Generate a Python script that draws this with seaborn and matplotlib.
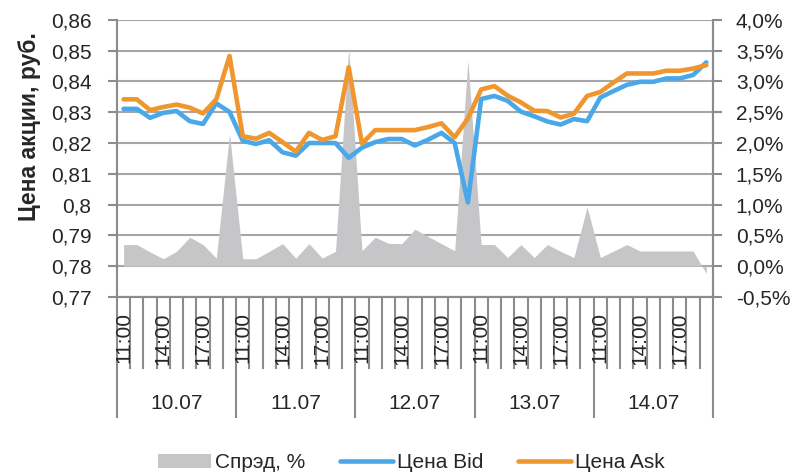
import numpy as np
import pandas as pd
import seaborn as sns
import matplotlib.pyplot as plt
from matplotlib.patches import Patch
from matplotlib.lines import Line2D

# Aesthetics
sns.set_style("white")
plt.rcParams["font.family"] = ["Liberation Sans", "DejaVu Sans"]

# Data (hourly, 11:00-19:00, five days)
days = ["10.07", "11.07", "12.07", "13.07", "14.07"]
hours = ["11:00", "12:00", "13:00", "14:00", "15:00", "16:00", "17:00", "18:00", "19:00"]
hour_labels = ["11:00", "14:00", "17:00"]

ask = [0.8342, 0.8342, 0.8307, 0.8317, 0.8325, 0.8315, 0.8296, 0.8342, 0.8483,
       0.8222, 0.8214, 0.8233, 0.8203, 0.8172, 0.8233, 0.8210, 0.8222, 0.8446,
       0.8198, 0.8242, 0.8242, 0.8242, 0.8242, 0.8252, 0.8264, 0.8219, 0.8280,
       0.8374, 0.8385, 0.8354, 0.8332, 0.8305, 0.8304, 0.8283, 0.8295, 0.8353,
       0.8366, 0.8397, 0.8426, 0.8426, 0.8426, 0.8435, 0.8435, 0.8442, 0.8453]

bid = [0.8311, 0.8311, 0.8282, 0.8298, 0.8304, 0.8271, 0.8262, 0.8329, 0.8301,
       0.8207, 0.8197, 0.8209, 0.8170, 0.8159, 0.8200, 0.8200, 0.8200, 0.8152,
       0.8185, 0.8203, 0.8213, 0.8213, 0.8192, 0.8211, 0.8233, 0.8200, 0.8007,
       0.8343, 0.8353, 0.8337, 0.8302, 0.8287, 0.8270, 0.8260, 0.8278, 0.8271,
       0.8348, 0.8369, 0.8389, 0.8399, 0.8399, 0.8410, 0.8410, 0.8421, 0.8462]

spread = [0.35, 0.35, 0.23, 0.12, 0.24, 0.47, 0.35, 0.13, 2.15,
          0.12, 0.12, 0.24, 0.365, 0.13, 0.365, 0.13, 0.24, 3.55,
          0.25, 0.47, 0.37, 0.365, 0.60, 0.48, 0.365, 0.25, 3.35,
          0.35, 0.35, 0.14, 0.35, 0.14, 0.35, 0.24, 0.14, 0.96,
          0.14, 0.245, 0.35, 0.245, 0.245, 0.245, 0.245, 0.245, -0.12]

price_ticks = [0.77, 0.78, 0.79, 0.80, 0.81, 0.82, 0.83, 0.84, 0.85, 0.86]
spread_ticks = [-0.5, 0.0, 0.5, 1.0, 1.5, 2.0, 2.5, 3.0, 3.5, 4.0]

# Colors
c_bid = "#4aa8e8"
c_ask = "#f0962e"
c_spread = "#c6c6c8"
c_axis = "#8c8c8c"
c_grid = "#a6a6a6"

df = pd.DataFrame({
    "day": np.repeat(days, len(hours)),
    "hour": hours * len(days),
    "bid": bid,
    "ask": ask,
    "spread": spread,
})
df["pos"] = np.arange(len(df))

fig = plt.figure(figsize=(7.93, 4.75), dpi=100)
ax = fig.add_axes([0.1475, 0.375, 0.7515, 0.583])
ax2 = ax.twinx()
ax.set_zorder(2)
ax2.set_zorder(1)
ax.patch.set_visible(False)

# Spread area on the right axis (behind the lines)
ax2.fill_between(df["pos"], 0, df["spread"], color=c_spread, lw=0, zorder=2)
ax2.set_ylim(-0.5, 4.0)
ax2.set_yticks(spread_ticks)
ax2.set_yticklabels([f"{v:.1f}%".replace(".", ",") for v in spread_ticks])
ax2.grid(axis="y", color=c_grid, lw=1.5, zorder=1)
ax2.set_axisbelow(True)

# Prices on the left axis
sns.lineplot(data=df, x="pos", y="bid", ax=ax, color=c_bid, lw=3.3, legend=False)
sns.lineplot(data=df, x="pos", y="ask", ax=ax, color=c_ask, lw=3.3, legend=False)
ax.set_ylim(0.77, 0.86)
ax.set_yticks(price_ticks)
ax.set_yticklabels([f"{v:.2f}".rstrip("0").replace(".", ",") for v in price_ticks])
ax.set_xlim(-0.5, len(df) - 0.5)

ax.set_ylabel("Цена акции, руб.", fontsize=16.5, fontweight="bold")
ax.yaxis.set_label_coords(-0.128, 0.614)
ax.set_xlabel("")

for a in (ax, ax2):
    a.spines["top"].set_visible(False)
    for side in ("left", "right", "bottom"):
        a.spines[side].set_color(c_axis)
        a.spines[side].set_linewidth(1.5)
ax.tick_params(axis="y", left=True, direction="out", length=6.5, width=1.5,
               color=c_axis, labelsize=15, pad=12)
ax2.tick_params(axis="y", right=True, direction="out", length=6.5, width=1.5,
                color=c_axis, labelsize=15, pad=10)

# Category axis: boundaries as tick marks, day separators longer
n = len(hours)
ax.set_xticks(np.arange(0, len(df) + 1, n) - 0.5)
ax.set_xticks(np.arange(len(df) + 1) - 0.5, minor=True)
ax.set_xticklabels([])
ax.tick_params(axis="x", which="major", bottom=True, length=87, width=1.5, color=c_axis)
ax.tick_params(axis="x", which="minor", bottom=True, length=52, width=1.5, color=c_axis)

# Hour labels (drawn above the tick marks)
sec_h = ax.secondary_xaxis("bottom")
sec_h.set_zorder(5)
hour_rows = df[df["hour"].isin(hour_labels)]
sec_h.set_xticks(hour_rows["pos"].to_numpy())
sec_h.set_xticklabels(hour_rows["hour"], rotation=90, fontsize=15)
sec_h.tick_params(length=0, pad=11)
sec_h.spines["bottom"].set_visible(False)

# Day labels
sec_d = ax.secondary_xaxis("bottom")
sec_d.set_zorder(5)
day_pos = df.groupby("day")["pos"].mean().loc[days].to_numpy()
sec_d.set_xticks(day_pos)
sec_d.set_xticklabels(days, fontsize=15)
sec_d.tick_params(length=0, pad=70)
sec_d.spines["bottom"].set_visible(False)

# Legend
handles = [
    Patch(facecolor=c_spread, edgecolor="none"),
    Line2D([0], [0], color=c_bid, lw=3.3),
    Line2D([0], [0], color=c_ask, lw=3.3),
]
fig.legend(handles, ["Спрэд, %", "Цена Bid", "Цена Ask"], loc="center",
           bbox_to_anchor=(0.519, 0.026), ncol=3, frameon=False, fontsize=15,
           handlelength=2.55, handletextpad=0.2, columnspacing=1.65)

fig.savefig("out.png", dpi=100)
